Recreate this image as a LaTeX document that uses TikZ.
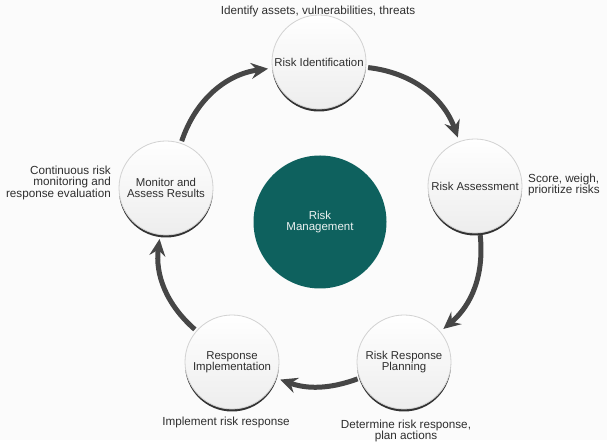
\documentclass[tikz,border=0pt]{standalone}
\usepackage{fontspec}
\setmainfont{Liberation Sans}
\usepackage{tikz}
\usetikzlibrary{arrows.meta}
\usetikzlibrary{shadows}
\definecolor{riskteal}{HTML}{0E615E}
\definecolor{arrowgray}{HTML}{464646}
\definecolor{txtgray}{HTML}{2E2E2E}

\begin{document}
\begin{tikzpicture}[x=1pt,y=1pt,>={Stealth[length=17pt,width=16pt,inset=6pt]},
    stage/.style={circle,minimum size=94pt,inner sep=0pt,draw=gray!35,line width=0.8pt,
      top color=white,bottom color=gray!14,text=txtgray,align=center,
      font=\fontsize{11.4}{11}\selectfont,
      drop shadow={shadow xshift=0pt,shadow yshift=-2.5pt,opacity=0.8,fill=black}},
    note/.style={inner sep=0pt,text=txtgray,font=\fontsize{11.7}{10.8}\selectfont},
    flow/.style={->,line width=5pt,draw=arrowgray,shorten >=4pt,shorten <=2pt}]
    \fill[gray!3] (0,0) rectangle (607,440);
    \node[circle,fill=riskteal,minimum size=133pt,text=white!92!riskteal,align=center,
      font=\fontsize{11.5}{11.8}\selectfont] (RM) at (320,218) {Risk\\Management};
    \node[stage] (RI) at (319,378) {Risk Identification};
    \node[stage] (RA) at (475,254) {Risk Assessment};
    \node[stage] (RP) at (404,78) {Risk Response\\Planning};
    \node[stage] (RR) at (232,78) {Response\\Implementation};
    \node[stage] (MA) at (166,252) {Monitor and\\Assess Results};
    \node[note] (tRI) at (318,429) {Identify assets, vulnerabilities, threats};
    \node[note,anchor=west,align=left] (tRA) at (528,255) {Score, weigh,\\prioritize risks};
    \node[note,anchor=east,align=right] (tMA) at (111,257) {Continuous risk\\monitoring and\\response evaluation};
    \node[note] (tRR) at (226,18) {Implement risk response};
    \node[note,align=center] (tRP) at (406,9) {Determine risk response,\\plan actions};
    \draw[flow] (MA) to[bend left=32] (RI);
    \draw[flow] (RI) to[bend left=32] (RA);
    \draw[flow] (RA) to[bend left=28] (RP);
    \draw[flow] (RP) to[bend left=20] (RR);
    \draw[flow] (RR) to[bend left=28] (MA);
  \end{tikzpicture}
\end{document}
